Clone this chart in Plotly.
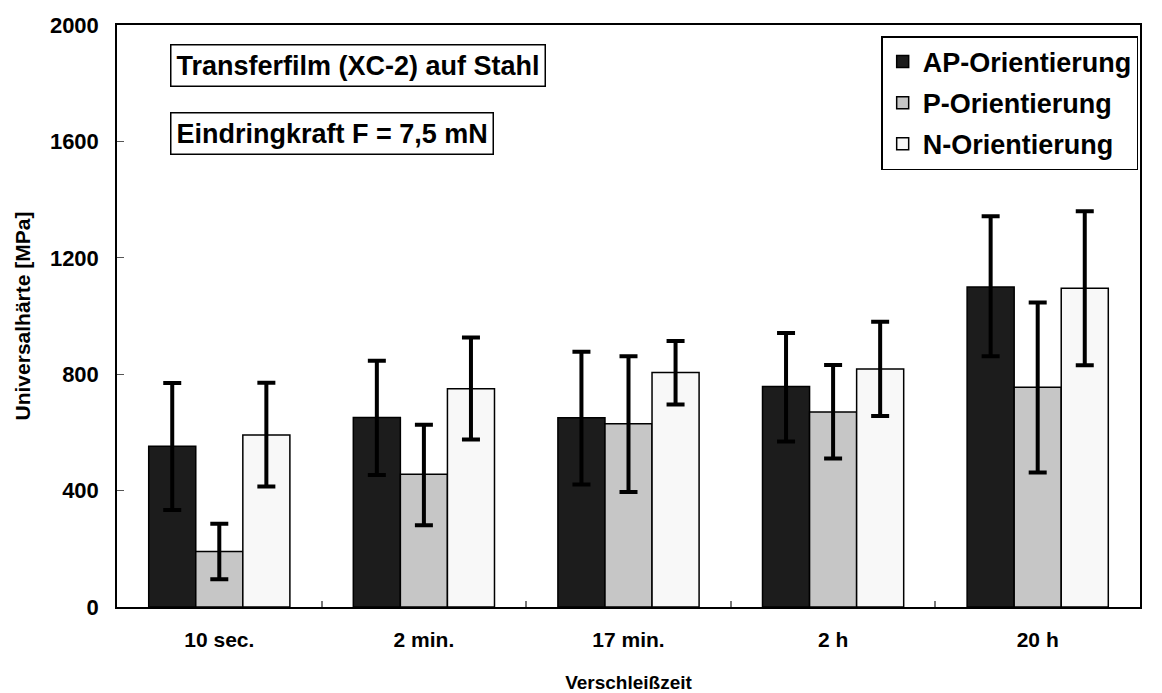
import plotly.graph_objects as go

categories = ["10 sec.", "2 min.", "17 min.", "2 h", "20 h"]

ap_values = [552, 651, 650, 758, 1100]
ap_upper = [770, 846, 877, 942, 1343]
ap_lower = [333, 454, 421, 569, 862]

p_values = [191, 456, 630, 670, 755]
p_upper = [286, 626, 862, 832, 1046]
p_lower = [95, 281, 395, 510, 462]

n_values = [591, 750, 806, 818, 1095]
n_upper = [771, 926, 914, 980, 1360]
n_lower = [414, 576, 696, 656, 831]

y_ticks = [0, 400, 800, 1200, 1600, 2000]

FONT = "Liberation Sans, Arial, sans-serif"

series = [
    ("AP-Orientierung", ap_values, ap_upper, ap_lower, "#1c1c1c"),
    ("P-Orientierung", p_values, p_upper, p_lower, "#c6c6c6"),
    ("N-Orientierung", n_values, n_upper, n_lower, "#f8f8f8"),
]

fig = go.Figure()
for name, vals, up, lo, color in series:
    fig.add_trace(go.Bar(
        x=categories, y=vals, name=name, legendgroup=name,
        marker=dict(color=color, line=dict(color="black", width=1.5)),
        error_y=dict(type="data", symmetric=False,
                     array=[u - v for u, v in zip(up, vals)],
                     arrayminus=[v - l for v, l in zip(vals, lo)],
                     color="black", thickness=4, width=9),
    ))

fig.update_layout(
    width=1162, height=693,
    margin=dict(l=117, r=22, t=25, b=86, autoexpand=False),
    paper_bgcolor="white", plot_bgcolor="white",
    barmode="group", bargap=0.31, bargroupgap=0,
    font=dict(family=FONT, color="black", weight="bold"),
    showlegend=True,
    legend=dict(x=0.747, y=0.981, xanchor="left", yanchor="top",
                bgcolor="white", bordercolor="black", borderwidth=1.5,
                font=dict(family=FONT, size=27, color="black", weight="bold"),
                tracegroupgap=3, itemwidth=30),
    annotations=[
        dict(text="Transferfilm (XC-2) auf Stahl", xref="paper", yref="paper",
             x=0.052, y=0.930, xanchor="left", yanchor="middle", showarrow=False,
             font=dict(family=FONT, size=27, color="black", weight="bold"),
             bordercolor="black", borderwidth=1.5, borderpad=5, bgcolor="white"),
        dict(text="Eindringkraft F = 7,5 mN", xref="paper", yref="paper",
             x=0.052, y=0.8144, xanchor="left", yanchor="middle", showarrow=False,
             font=dict(family=FONT, size=27, color="black", weight="bold"),
             bordercolor="black", borderwidth=1.5, borderpad=5, bgcolor="white"),
    ],
)

fig.update_xaxes(
    automargin=False,
    showline=True, linecolor="black", linewidth=1.5, mirror=True,
    ticks="inside", tickson="boundaries", ticklen=6, tickcolor="#777777", tickwidth=1.5,
    tickfont=dict(family=FONT, size=21, color="black", weight="bold"),
    ticklabelstandoff=13,
    title=dict(text="Verschleißzeit", standoff=26,
               font=dict(family=FONT, size=19, color="black", weight="bold")),
    showgrid=False,
)
fig.update_yaxes(
    automargin=False,
    range=[0, 2000], tickvals=y_ticks,
    showline=True, linecolor="black", linewidth=1.5, mirror=True,
    ticks="inside", ticklen=7, tickcolor="#555555", tickwidth=1,
    tickfont=dict(family=FONT, size=22, color="black", weight="bold"),
    ticklabelstandoff=12,
    title=dict(text="Universalhärte [MPa]", standoff=14,
               font=dict(family=FONT, size=21, color="black", weight="bold")),
    showgrid=False, zeroline=False,
)

fig.write_html(
    "out.html",
    config={"displayModeBar": False},
    post_script="document.body.style.margin='0';document.body.style.overflow='hidden';",
)
